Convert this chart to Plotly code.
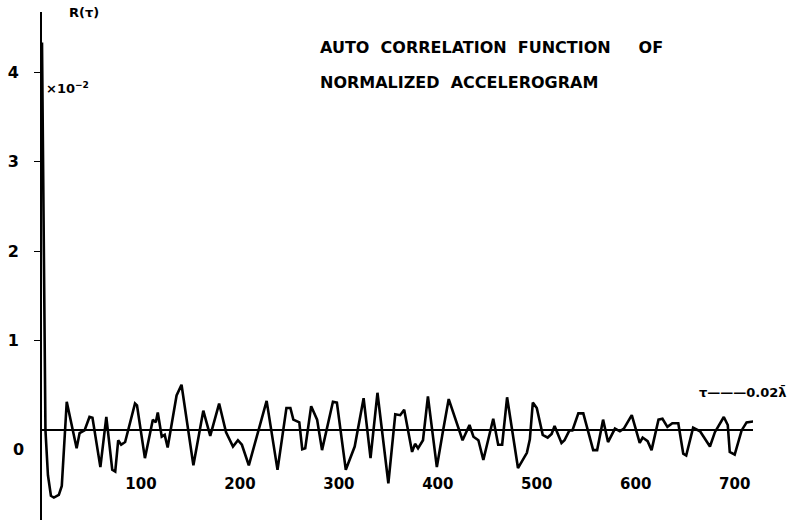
import plotly.graph_objects as go

# ---- data ----
tau = [0, 1.5, 3.5, 6, 9, 12, 17, 20, 25, 35, 38, 43, 48, 51, 59, 65, 71, 74, 77, 80, 84,
       94, 96, 104, 112, 115, 117, 121, 124, 127, 136, 141, 153, 163, 170, 179, 186, 193,
       198, 202, 209, 227, 238, 247, 251, 254, 260, 263, 266, 272, 278, 283, 294, 298, 307,
       316, 325, 332, 339, 350, 357, 362, 366, 374, 377, 380, 385, 390, 399, 405, 411, 425,
       432, 436, 441, 446, 456, 461, 465, 470, 481, 490, 493, 496, 500, 506, 511, 515, 518,
       525, 528, 533, 536, 542, 547, 557, 561, 567, 572, 579, 584, 588, 596, 604, 607, 612,
       616, 623, 627, 632, 637, 643, 648, 651, 658, 665, 675, 680, 689, 693, 695, 700, 707,
       712, 719]
R = [4.33, 2.2, 0.0, -0.5, -0.73, -0.75, -0.72, -0.62, 0.32, -0.2, -0.03, 0.0, 0.15, 0.14,
     -0.41, 0.15, -0.44, -0.46, -0.11, -0.16, -0.13, 0.30, 0.28, -0.31, 0.12, 0.09, 0.20,
     -0.07, -0.05, -0.19, 0.39, 0.51, -0.39, 0.22, -0.06, 0.30, -0.02, -0.18, -0.11, -0.16,
     -0.39, 0.33, -0.44, 0.25, 0.25, 0.12, 0.09, -0.21, -0.20, 0.27, 0.12, -0.22, 0.32, 0.31,
     -0.44, -0.18, 0.36, -0.31, 0.42, -0.59, 0.18, 0.17, 0.23, -0.24, -0.15, -0.20, -0.11,
     0.38, -0.41, -0.02, 0.35, -0.11, 0.06, -0.07, -0.11, -0.33, 0.13, -0.16, -0.16, 0.37,
     -0.42, -0.25, -0.10, 0.31, 0.25, -0.05, -0.08, -0.04, 0.05, -0.14, -0.11, 0.0, 0.0,
     0.19, 0.19, -0.22, -0.22, 0.12, -0.13, 0.02, -0.01, 0.02, 0.17, -0.14, -0.08, -0.12,
     -0.22, 0.12, 0.13, 0.04, 0.08, 0.08, -0.26, -0.28, 0.03, -0.01, -0.18, -0.02, 0.15,
     0.06, -0.24, -0.27, 0.0, 0.09, 0.10]

x_ticks = [100, 200, 300, 400, 500, 600, 700]
y_ticks = [1, 2, 3, 4]
title_lines = ["AUTO\u00a0\u00a0CORRELATION\u00a0\u00a0FUNCTION\u00a0\u00a0\u00a0\u00a0\u00a0OF",
               "NORMALIZED\u00a0\u00a0ACCELEROGRAM"]

# ---- layout geometry (pixels) ----
W, H = 799, 523
ML, MR, MT, MB = 42, 46, 12, 3
PW, PH = W - ML - MR, H - MT - MB


def px(xp):
    return (xp - ML) / PW


def py(yp):
    return 1 - (yp - MT) / PH


FONT = "DejaVu Sans"

fig = go.Figure()
fig.add_trace(go.Scatter(x=tau, y=R, mode="lines",
                         line=dict(color="black", width=2.6), hoverinfo="skip"))

fig.update_layout(
    width=W, height=H,
    margin=dict(l=ML, r=MR, t=MT, b=MB),
    paper_bgcolor="white", plot_bgcolor="white",
    showlegend=False,
    font=dict(family=FONT, color="black"),
    xaxis=dict(range=[0, 718.5], showgrid=False, zeroline=False, showline=False,
               tickvals=x_ticks, ticks="", anchor="free", position=0.0925,
               tickfont=dict(size=15, family=FONT, weight="bold")),
    yaxis=dict(range=[-1.0, 4.67], showgrid=False, zeroline=True, zerolinecolor="black",
               zerolinewidth=1.5, showline=True, linecolor="black", linewidth=1.6,
               tickvals=y_ticks, ticks="outside", ticklen=6, tickwidth=1.4,
               tickcolor="black", ticklabelstandoff=12,
               tickfont=dict(size=16, family=FONT, weight="bold")),
)

ann = [
    dict(text=title_lines[0], x=px(318), y=py(48), xanchor="left", yanchor="middle",
         font=dict(size=16, weight="bold")),
    dict(text=title_lines[1], x=px(318), y=py(83), xanchor="left", yanchor="middle",
         font=dict(size=16, weight="bold")),
    dict(text="R(τ)", x=px(84), y=py(13), xanchor="center", yanchor="middle",
         font=dict(size=13, weight="bold")),
    dict(text="×10<sup>−2</sup>", x=px(44), y=py(88), xanchor="left", yanchor="middle",
         font=dict(size=13, weight="bold")),
    dict(text="τ———0.02λ̄", x=px(697), y=py(392), xanchor="left", yanchor="middle",
         font=dict(size=13, weight="bold")),
    dict(text="0", x=px(19), y=py(449), xanchor="center", yanchor="middle",
         font=dict(size=16, weight="bold")),
]
for a in ann:
    a.update(xref="paper", yref="paper", showarrow=False)
fig.update_layout(annotations=ann)

fig.write_html("out.html")
